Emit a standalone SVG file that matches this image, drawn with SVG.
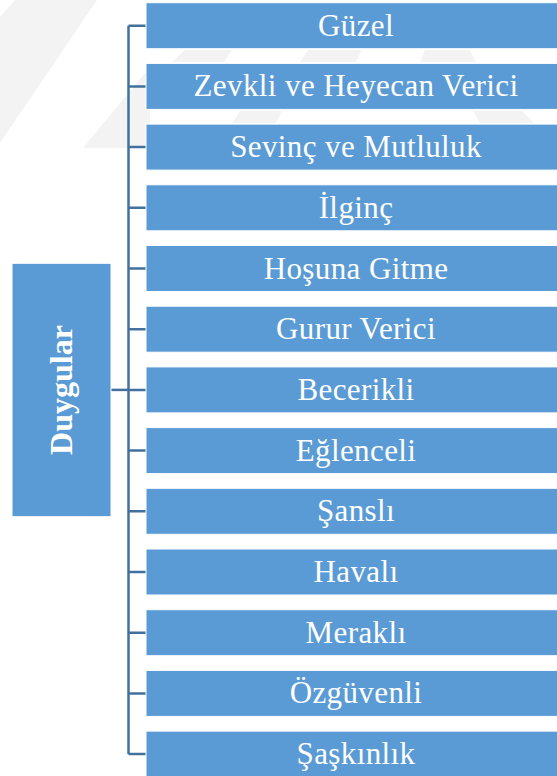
<svg xmlns="http://www.w3.org/2000/svg" width="557" height="776" viewBox="0 0 557 776">
<style>
.bg{fill:#ffffff}
.wm{fill:#f3f3f3}
.box{fill:#5B9BD5;stroke:#ffffff;stroke-width:1}
.lbl{font-family:"Liberation Serif","Times New Roman",serif;font-size:31px;letter-spacing:0.4px;fill:#ffffff;text-anchor:middle}
.root{font-family:"Liberation Serif","Times New Roman",serif;font-size:32px;font-weight:bold;fill:#ffffff;text-anchor:middle}
.con{stroke:#41719C;stroke-width:2.5;fill:none}
</style>
<rect class="bg" x="0" y="0" width="557" height="776"/>
<g id="watermark">
<polygon class="wm" points="15,0 97,0 0,143 0,17"/>
<polygon class="wm" points="150,67 83,148 150,148"/>
<polygon class="wm" points="185,50 232,50 224,62 172,62"/>
<polygon class="wm" points="308,50 362,50 356,62 300,62"/>
<polygon class="wm" points="425,50 470,50 476,62 420,62"/>
<polygon class="wm" points="240,111 282,111 276,123 232,123"/>
<polygon class="wm" points="473,111 522,111 534,123 480,123"/>
</g>
<g id="connectors">
<line class="con" x1="128.5" y1="25.7" x2="128.5" y2="754.1"/>
<line class="con" x1="111" y1="389.9" x2="128.5" y2="389.9"/>
<path class="con" d="M128.5,25.7H146M128.5,86.4H146M128.5,147.1H146M128.5,207.8H146M128.5,268.5H146M128.5,329.2H146M128.5,389.9H146M128.5,450.6H146M128.5,511.3H146M128.5,572H146M128.5,632.7H146M128.5,693.4H146M128.5,754.1H146"/>
</g>
<g id="root">
<rect class="box" x="12" y="263.3" width="99" height="253.4"/>
<text class="root" transform="translate(72,390) rotate(-90)" x="0" y="0">Duygular</text>
</g>
<g id="n1"><rect class="box" x="146" y="2.7" width="420" height="46"/><text class="lbl" x="356" y="35.7">Güzel</text></g>
<g id="n2"><rect class="box" x="146" y="63.4" width="420" height="46"/><text class="lbl" x="356" y="96.4">Zevkli ve Heyecan Verici</text></g>
<g id="n3"><rect class="box" x="146" y="124.1" width="420" height="46"/><text class="lbl" x="356" y="157.1">Sevinç ve Mutluluk</text></g>
<g id="n4"><rect class="box" x="146" y="184.8" width="420" height="46"/><text class="lbl" x="356" y="217.8">İlginç</text></g>
<g id="n5"><rect class="box" x="146" y="245.5" width="420" height="46"/><text class="lbl" x="356" y="278.5">Hoşuna Gitme</text></g>
<g id="n6"><rect class="box" x="146" y="306.2" width="420" height="46"/><text class="lbl" x="356" y="339.2">Gurur Verici</text></g>
<g id="n7"><rect class="box" x="146" y="366.9" width="420" height="46"/><text class="lbl" x="356" y="399.9">Becerikli</text></g>
<g id="n8"><rect class="box" x="146" y="427.6" width="420" height="46"/><text class="lbl" x="356" y="460.6">Eğlenceli</text></g>
<g id="n9"><rect class="box" x="146" y="488.3" width="420" height="46"/><text class="lbl" x="356" y="521.3">Şanslı</text></g>
<g id="n10"><rect class="box" x="146" y="549" width="420" height="46"/><text class="lbl" x="356" y="582">Havalı</text></g>
<g id="n11"><rect class="box" x="146" y="609.7" width="420" height="46"/><text class="lbl" x="356" y="642.7">Meraklı</text></g>
<g id="n12"><rect class="box" x="146" y="670.4" width="420" height="46"/><text class="lbl" x="356" y="703.4">Özgüvenli</text></g>
<g id="n13"><rect class="box" x="146" y="731.1" width="420" height="46"/><text class="lbl" x="356" y="764.1">Şaşkınlık</text></g>
</svg>
